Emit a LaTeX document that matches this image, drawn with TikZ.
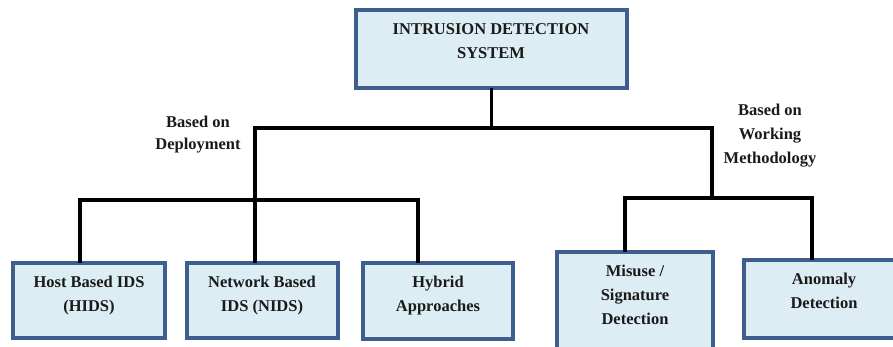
\documentclass[tikz,border=0pt]{standalone}
\usepackage{fontspec}
\setmainfont{Liberation Serif}
\definecolor{boxborder}{HTML}{3E5F8E}
\definecolor{boxfill}{HTML}{DCEDF4}
\definecolor{txt}{HTML}{1A1A1A}
\begin{document}
\begin{tikzpicture}[x=1pt,y=-1pt,
  idsbox/.style={draw=boxborder, fill=boxfill, line width=3.2pt, minimum width=#1, inner sep=0pt},
  lbl/.style={align=center, inner sep=0pt, text=txt, font=\fontsize{16.5}{24}\selectfont\bfseries},
  conn/.style={line width=3.5pt, black, line cap=rect}]
\clip (0,0) rectangle (893,347);
\fill[white] (0,0) rectangle (893,347);
% boxes
\node[idsbox=271pt, minimum height=78pt] (top) at (491.5,49) {};
\node[idsbox=152pt, minimum height=75pt] (host) at (89,300.5) {};
\node[idsbox=151pt, minimum height=75pt] (net) at (262.5,300.5) {};
\node[idsbox=150pt, minimum height=76pt] (hyb) at (438,301) {};
\node[idsbox=156pt, minimum height=100pt] (mis) at (635,302) {};
\node[idsbox=160pt, minimum height=78pt] (ano) at (824,299) {};
% texts
\node[lbl] (ttop) at (491,41) {INTRUSION DETECTION\\SYSTEM};
\node[lbl] (thost) at (89,296) {Host Based IDS\\(HIDS)};
\node[lbl] (tnet) at (262,296) {Network Based\\IDS (NIDS)};
\node[lbl] (thyb) at (438,296) {Hybrid\\Approaches};
\node[lbl] (tmis) at (635,295) {Misuse /\\Signature\\Detection};
\node[lbl] (tano) at (824,291) {Anomaly\\Detection};
\node[lbl, font=\fontsize{16.5}{22}\selectfont\bfseries] (ldep) at (198,135) {Based on\\Deployment};
\node[lbl] (lwork) at (770,136) {Based on\\Working\\Methodology};
% junctions
\coordinate (dep) at (255,128);
\coordinate (work) at (712,128);
\coordinate (depL) at (80,200);
\coordinate (depR) at (418,200);
\coordinate (workL) at (625,198);
\coordinate (workR) at (812,198);
% connectors
\draw[conn] (top.south) -- (top.south |- dep);
\draw[conn] (dep) -- (work);
\draw[conn] (dep) -- (dep |- net.north);
\draw[conn] (depL) -- (depR);
\draw[conn] (depL) -- (depL |- host.north);
\draw[conn] (depR) -- (depR |- hyb.north);
\draw[conn] (work) -- (work |- workL);
\draw[conn] (workL) -- (workR);
\draw[conn] (workL) -- (workL |- mis.north);
\draw[conn] (workR) -- (workR |- ano.north);
\end{tikzpicture}
\end{document}
